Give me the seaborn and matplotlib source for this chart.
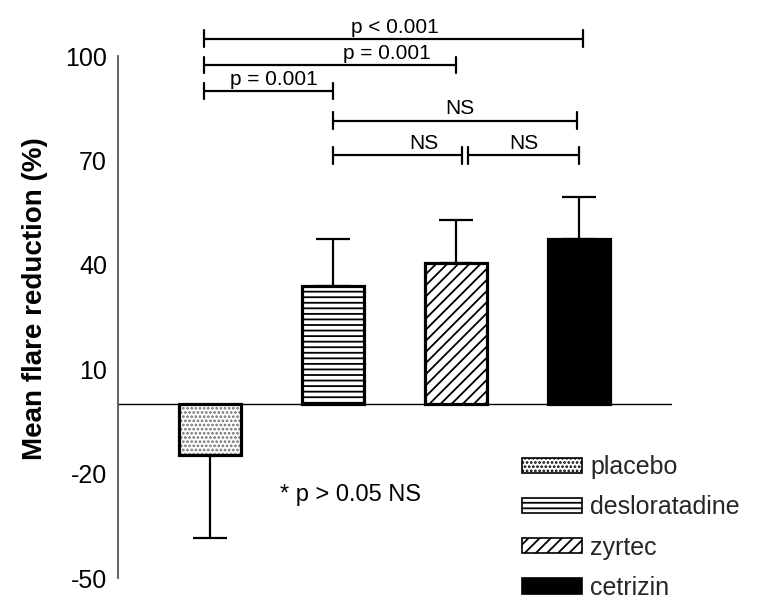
import matplotlib
matplotlib.use("Agg")
import matplotlib.pyplot as plt
from matplotlib.patches import Patch, Rectangle
import seaborn as sns

# ---- data ----
categories = ["placebo", "desloratadine", "zyrtec", "cetrizin"]
means = [-14.5, 34.0, 40.5, 47.5]
errors = [24.0, 13.5, 12.5, 12.0]
yticks = [-50, -20, 10, 40, 70, 100]
bar_colors = ["white", "white", "white", "black"]
bar_hatches = ["....", "---", "///", ""]
hatch_colors = ["#707070", "black", "black", "black"]

# significance brackets: (left idx, right idx, label, level)
bracket_left = [0, 0, 0, 1, 1, 2]
bracket_right = [3, 2, 1, 3, 2, 3]
bracket_labels = ["p < 0.001", "p = 0.001", "p = 0.001", "NS", "NS", "NS"]
bracket_levels = [105.0, 97.5, 90.0, 81.5, 71.5, 71.5]
footnote = "* p > 0.05 NS"

sns.set_theme(style="white")
plt.rcParams["font.family"] = ["Liberation Sans", "DejaVu Sans"]
plt.rcParams["hatch.linewidth"] = 1.3
plt.rcParams["axes.unicode_minus"] = False

W, H = 776, 610
fig = plt.figure(figsize=(W / 100, H / 100), dpi=100)
ax = fig.add_axes([118 / W, (H - 578) / H, (672 - 118) / W, (578 - 20) / H])

sns.barplot(x=categories, y=means, hue=categories,
            palette=dict(zip(categories, bar_colors)), legend=False,
            errorbar=None, width=0.51, edgecolor="black", linewidth=0,
            ax=ax, zorder=3)
for p, h, hc in zip(ax.patches, bar_hatches, hatch_colors):
    p.set_hatch(h)
    p.set_edgecolor(hc)
    p.set_linewidth(0)
    p.set_zorder(3)
    ax.add_patch(Rectangle(p.get_xy(), p.get_width(), p.get_height(), fill=False,
                           edgecolor="black", linewidth=2.3, zorder=4))

# one-sided error bars
lower = [e if m < 0 else 0 for m, e in zip(means, errors)]
upper = [e if m >= 0 else 0 for m, e in zip(means, errors)]
ax.errorbar(range(len(categories)), means, yerr=[lower, upper], fmt="none",
            ecolor="black", elinewidth=1.6, capsize=12, capthick=1.6, zorder=1)

ax.axhline(0, color="black", lw=1.0, zorder=2)

ax.set_xlim(-0.748, 3.756)
ax.set_ylim(-50, 110.4)
ax.set_yticks(yticks)
ax.set_xticks([])
ax.set_xlabel("")
ax.tick_params(axis="y", length=0, pad=8, labelsize=18, colors="black")
for s in ["top", "right", "bottom"]:
    ax.spines[s].set_visible(False)
ax.spines["left"].set_bounds(-50, 100)
ax.spines["left"].set_color("#555555")
ax.spines["left"].set_linewidth(1.3)
ax.set_ylabel("Mean flare reduction (%)", fontsize=20, fontweight="bold",
              labelpad=12, color="black")

# brackets
text_x = [1.5, 1.44, 0.52, 2.03, 1.74, 2.55]
x_right_adj = [0.03, 0.0, 0.0, -0.02, 0.05, 0.0]
x_left_adj = [-0.05, -0.05, -0.05, 0.0, 0.0, 0.1]
tick_h = 2.4
for l, r, lab, lev, tx, ra, la in zip(bracket_left, bracket_right, bracket_labels,
                                       bracket_levels, text_x, x_right_adj, x_left_adj):
    x1, x2 = l + la, r + ra
    ax.plot([x1, x2], [lev, lev], color="black", lw=1.6, clip_on=False,
            solid_capstyle="butt")
    ax.plot([x1, x1], [lev - tick_h, lev + tick_h], color="black", lw=1.6, clip_on=False)
    ax.plot([x2, x2], [lev - tick_h, lev + tick_h], color="black", lw=1.6, clip_on=False)
    ax.text(tx, lev + 0.6, lab, ha="center", va="bottom", fontsize=15, color="black")

ax.text(0.57, -26, footnote, ha="left", va="center", fontsize=17, color="black")

handles = [Patch(facecolor=c, edgecolor="black", hatch=h, linewidth=1.2)
           for c, h in zip(bar_colors, bar_hatches)]
fig.legend(handles, categories, loc="upper left",
           bbox_to_anchor=(522 / W, 1 - 455 / H), bbox_transform=fig.transFigure,
           frameon=False, fontsize=18, handlelength=2.4, handleheight=0.56,
           labelspacing=0.65, handletextpad=0.32, borderpad=0, borderaxespad=0)

fig.savefig("out.png", dpi=100, facecolor="white")
